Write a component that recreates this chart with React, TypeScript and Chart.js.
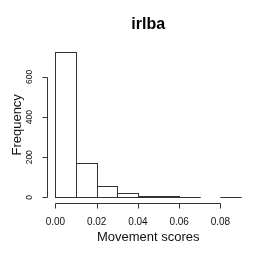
import React, { useEffect, useRef } from "react";
import { Chart, registerables } from "chart.js";

Chart.register(...registerables);

const binStarts = [0.0, 0.01, 0.02, 0.03, 0.04, 0.05, 0.06, 0.07, 0.08];
const binWidth = 0.01;
const counts = [723, 171, 56, 20, 5, 9, 4, 0, 3];
const xTicks = [0.0, 0.02, 0.04, 0.06, 0.08];
const xTickLabels = ["0.00", "0.02", "0.04", "0.06", "0.08"];
const yTicks = [0, 200, 400, 600];
const yTickLabels = ["0", "200", "400", "600"];
const titleText = "irlba";
const xTitle = "Movement scores";
const yTitle = "Frequency";

const FONT = '"Liberation Sans", Arial, Helvetica, sans-serif';
const INK = "#333333";

const barOutlinePlugin = {
  id: "barOutline",
  afterDatasetsDraw(chart: any) {
    const { ctx } = chart;
    const meta = chart.getDatasetMeta(0);
    ctx.save();
    ctx.strokeStyle = INK;
    ctx.lineWidth = 1;
    meta.data.forEach((el: any, i: number) => {
      if (counts[i] <= 0) return;
      const half = el.width / 2;
      const l = Math.round(el.x - half) + 0.5;
      const r = Math.round(el.x + half) + 0.5;
      const t = Math.round(el.y) + 0.5;
      const b = Math.round(el.base) + 0.5;
      ctx.strokeRect(l, t, r - l, b - t);
    });
    ctx.restore();
  },
};

const rAxesPlugin = {
  id: "rAxes",
  afterDraw(chart: any) {
    const { ctx, chartArea } = chart;
    const xs = chart.scales.x;
    const ys = chart.scales.y;
    ctx.save();
    ctx.strokeStyle = INK;
    ctx.fillStyle = "#111";
    ctx.lineWidth = 1;

    // x axis
    const axY = Math.round(chartArea.bottom) + 0.5;
    ctx.beginPath();
    ctx.moveTo(Math.round(xs.getPixelForValue(xTicks[0])) + 0.5, axY);
    ctx.lineTo(Math.round(xs.getPixelForValue(xTicks[xTicks.length - 1])) + 0.5, axY);
    xTicks.forEach((t) => {
      const px = Math.round(xs.getPixelForValue(t)) + 0.5;
      ctx.moveTo(px, axY);
      ctx.lineTo(px, axY + 5);
    });
    ctx.stroke();
    ctx.font = `10px ${FONT}`;
    ctx.textAlign = "center";
    ctx.textBaseline = "middle";
    xTicks.forEach((t, i) => {
      ctx.fillText(xTickLabels[i], xs.getPixelForValue(t), 222.5);
    });

    // y axis
    const axX = Math.round(chartArea.left) - 0.5;
    ctx.beginPath();
    ctx.moveTo(axX, Math.round(ys.getPixelForValue(yTicks[0])) + 0.5);
    ctx.lineTo(axX, Math.round(ys.getPixelForValue(yTicks[yTicks.length - 1])) + 0.5);
    yTicks.forEach((t) => {
      const py = Math.round(ys.getPixelForValue(t)) + 0.5;
      ctx.moveTo(axX, py);
      ctx.lineTo(axX - 5, py);
    });
    ctx.stroke();
    ctx.font = `8.5px ${FONT}`;
    yTicks.forEach((t, i) => {
      ctx.save();
      ctx.translate(29.5, ys.getPixelForValue(t));
      ctx.rotate(-Math.PI / 2);
      ctx.fillText(yTickLabels[i], 0, 0);
      ctx.restore();
    });

    // axis titles
    ctx.font = `13px ${FONT}`;
    ctx.fillText(xTitle, (chartArea.left + chartArea.right) / 2, 237);
    ctx.save();
    ctx.translate(17.5, (chartArea.top + chartArea.bottom) / 2);
    ctx.rotate(-Math.PI / 2);
    ctx.fillText(yTitle, 0, 0);
    ctx.restore();

    // main title
    ctx.font = `bold 16px ${FONT}`;
    ctx.fillStyle = "#000";
    ctx.fillText(titleText, (chartArea.left + chartArea.right) / 2, 25);
    ctx.restore();
  },
};

export default function App() {
  const ref = useRef<HTMLCanvasElement | null>(null);
  useEffect(() => {
    if (!ref.current) return;
    const maxCount = Math.max(...counts);
    const xMin = binStarts[0];
    const xMax = binStarts[binStarts.length - 1] + binWidth;
    const xPad = (xMax - xMin) * 0.04;
    const yPad = maxCount * 0.04;
    const chart = new Chart(ref.current, {
      type: "bar",
      data: {
        datasets: [
          {
            data: binStarts.map((b, i) => ({ x: b + binWidth / 2, y: counts[i] })),
            backgroundColor: "#ffffff",
            borderWidth: 0,
            barPercentage: 1,
            categoryPercentage: 1,
          },
        ],
      },
      options: {
        responsive: false,
        animation: false,
        devicePixelRatio: 1,
        layout: { padding: { left: 48, right: 24.5, top: 46.5, bottom: 58.8 } },
        plugins: { legend: { display: false }, tooltip: { enabled: false }, title: { display: false } },
        scales: {
          x: { type: "linear", display: false, min: xMin - xPad, max: xMax + xPad, offset: false },
          y: { type: "linear", display: false, min: -yPad, max: maxCount + yPad },
        },
      },
      plugins: [barOutlinePlugin, rAxesPlugin],
    });
    return () => chart.destroy();
  }, []);
  return (
    <div style={{ position: "absolute", left: 0, top: 0, width: 273, height: 262, background: "#fff" }}>
      <canvas ref={ref} width={273} height={262} />
    </div>
  );
}
